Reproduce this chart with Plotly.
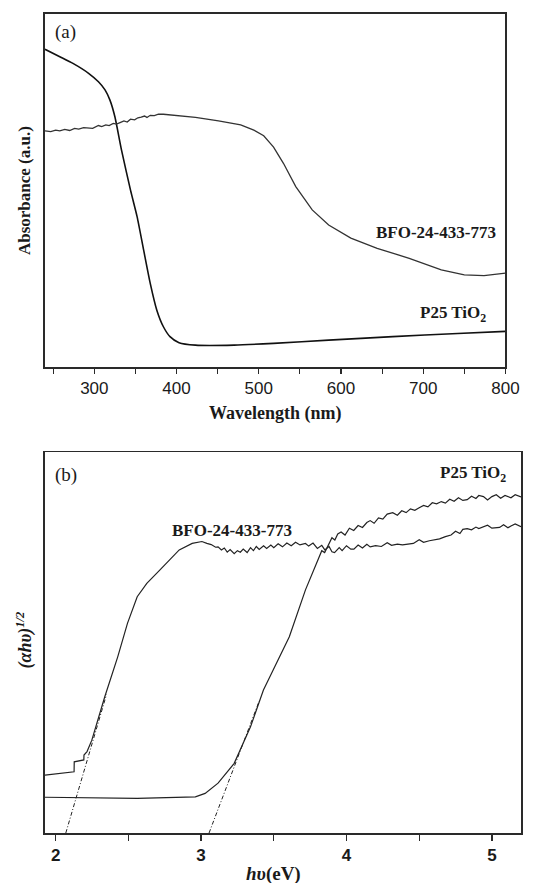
import plotly.graph_objects as go

# ---------------- Panel (a): absorbance vs wavelength ----------------
wl_p25 = [240, 258, 274, 293, 305, 313, 319, 325, 333, 344, 352, 360, 368, 376, 384,
          392, 403, 423, 470, 518, 585, 663, 742, 800]
abs_p25 = [0.900, 0.879, 0.860, 0.832, 0.808, 0.785, 0.756, 0.709, 0.615, 0.501, 0.426,
           0.331, 0.237, 0.161, 0.114, 0.086, 0.069, 0.062, 0.062, 0.067, 0.076, 0.086,
           0.095, 0.101]

wl_bfo = [240, 247, 253, 258, 264, 270, 276, 281, 287, 293, 298, 305, 309, 314, 318, 323,
          327, 332, 336, 340, 344, 349, 353, 357, 361, 364, 368, 373, 378, 384, 392, 400,
          423, 451, 478, 494, 506, 518, 530, 545, 565, 585, 612, 644, 683, 722, 750, 774,
          789, 800]
abs_bfo = [0.669, 0.667, 0.671, 0.669, 0.673, 0.670, 0.676, 0.674, 0.678, 0.677, 0.676,
           0.684, 0.681, 0.686, 0.684, 0.690, 0.688, 0.693, 0.697, 0.694, 0.702, 0.700,
           0.706, 0.708, 0.711, 0.707, 0.713, 0.712, 0.716, 0.716, 0.714, 0.714, 0.707,
           0.697, 0.686, 0.671, 0.655, 0.623, 0.577, 0.511, 0.445, 0.402, 0.365, 0.336,
           0.308, 0.275, 0.261, 0.259, 0.263, 0.266]

# ---------------- Panel (b): (alpha h nu)^1/2 vs h nu ----------------
e_bfo = [1.927, 2.127, 2.128, 2.194, 2.195, 2.216, 2.249, 2.338, 2.427, 2.494, 2.561, 2.627,
         2.716, 2.783, 2.850, 2.939, 3.006, 3.04, 3.07, 3.10, 3.117, 3.14, 3.16, 3.18, 3.20,
         3.228, 3.25, 3.27, 3.29, 3.317, 3.34, 3.36, 3.38, 3.40, 3.43, 3.451, 3.48, 3.50,
         3.53, 3.56, 3.59, 3.62, 3.65, 3.68, 3.718, 3.74, 3.77, 3.80, 3.83, 3.851, 3.88,
         3.90, 3.918, 3.95, 3.97, 4.00, 4.03, 4.051, 4.08, 4.11, 4.14, 4.163, 4.20, 4.24,
         4.28, 4.31, 4.35, 4.385, 4.42, 4.46, 4.50, 4.53, 4.57, 4.608, 4.64, 4.68, 4.719,
         4.75, 4.78, 4.80, 4.830, 4.86, 4.89, 4.91, 4.942, 4.97, 5.00, 5.053, 5.08, 5.11,
         5.131, 5.16, 5.20]
k_bfo = [0.152, 0.161, 0.187, 0.192, 0.205, 0.214, 0.244, 0.358, 0.463, 0.551, 0.621, 0.656,
         0.691, 0.717, 0.744, 0.761, 0.766, 0.761, 0.758, 0.751, 0.752, 0.744, 0.749, 0.738,
         0.745, 0.734, 0.742, 0.738, 0.746, 0.737, 0.750, 0.742, 0.753, 0.745, 0.755, 0.748,
         0.757, 0.750, 0.760, 0.752, 0.762, 0.755, 0.764, 0.757, 0.761, 0.754, 0.762, 0.748,
         0.756, 0.744, 0.753, 0.739, 0.737, 0.750, 0.742, 0.755, 0.746, 0.746, 0.757, 0.749,
         0.759, 0.752, 0.755, 0.753, 0.763, 0.756, 0.759, 0.757, 0.759, 0.761, 0.771, 0.764,
         0.768, 0.770, 0.773, 0.779, 0.783, 0.793, 0.787, 0.798, 0.800, 0.797, 0.804, 0.800,
         0.805, 0.809, 0.801, 0.803, 0.810, 0.802, 0.807, 0.812, 0.805]

e_p25 = [1.927, 2.561, 2.961, 3.028, 3.117, 3.228, 3.340, 3.429, 3.495, 3.607, 3.718, 3.807,
         3.83, 3.85, 3.874, 3.90, 3.92, 3.94, 3.963, 3.99, 4.02, 4.05, 4.08, 4.11, 4.14,
         4.163, 4.19, 4.22, 4.25, 4.28, 4.318, 4.35, 4.38, 4.41, 4.44, 4.47, 4.497, 4.53,
         4.56, 4.59, 4.62, 4.652, 4.68, 4.71, 4.74, 4.77, 4.80, 4.830, 4.86, 4.89, 4.91,
         4.942, 4.97, 5.00, 5.03, 5.06, 5.09, 5.131, 5.16, 5.20]
k_p25 = [0.094, 0.091, 0.095, 0.104, 0.131, 0.183, 0.279, 0.376, 0.428, 0.516, 0.639, 0.717,
         0.742, 0.737, 0.755, 0.776, 0.770, 0.786, 0.791, 0.783, 0.801, 0.795, 0.808, 0.803,
         0.816, 0.821, 0.814, 0.828, 0.825, 0.838, 0.842, 0.835, 0.847, 0.842, 0.852, 0.848,
         0.854, 0.861, 0.857, 0.868, 0.865, 0.871, 0.867, 0.877, 0.872, 0.881, 0.874, 0.876,
         0.885, 0.879, 0.887, 0.884, 0.875, 0.884, 0.889, 0.880, 0.887, 0.881, 0.889, 0.883]

# linear extrapolations (band-gap tangents)
tan_bfo_e = [2.07, 2.35]
tan_bfo_k = [0.0, 0.364]
tan_p25_e = [3.055, 3.40]
tan_p25_k = [0.0, 0.347]

SERIF = "Liberation Serif, Times New Roman, serif"
SANS = "Liberation Sans, Arial, sans-serif"
INK = "#1a1a1a"

fig = go.Figure()
fig.add_trace(go.Scatter(x=wl_p25, y=abs_p25, mode="lines", line=dict(color="#111111", width=1.6, shape="spline", smoothing=0.6),
                         xaxis="x", yaxis="y", showlegend=False, hoverinfo="skip"))
fig.add_trace(go.Scatter(x=wl_bfo, y=abs_bfo, mode="lines", line=dict(color="#333333", width=1.3),
                         xaxis="x", yaxis="y", showlegend=False, hoverinfo="skip"))
fig.add_trace(go.Scatter(x=e_bfo, y=k_bfo, mode="lines", line=dict(color="#222222", width=1.2),
                         xaxis="x2", yaxis="y2", showlegend=False, hoverinfo="skip"))
fig.add_trace(go.Scatter(x=e_p25, y=k_p25, mode="lines", line=dict(color="#222222", width=1.2),
                         xaxis="x2", yaxis="y2", showlegend=False, hoverinfo="skip"))
fig.add_trace(go.Scatter(x=tan_bfo_e, y=tan_bfo_k, mode="lines", line=dict(color="#222222", width=1, dash="4px,2px,1px,2px"),
                         xaxis="x2", yaxis="y2", showlegend=False, hoverinfo="skip"))
fig.add_trace(go.Scatter(x=tan_p25_e, y=tan_p25_k, mode="lines", line=dict(color="#222222", width=1, dash="4px,2px,1px,2px"),
                         xaxis="x2", yaxis="y2", showlegend=False, hoverinfo="skip"))

frame = dict(showline=True, linecolor="#2a2a2a", linewidth=1.6, mirror=True, showgrid=False, zeroline=False)

fig.update_layout(
    width=537, height=883,
    margin=dict(l=45, r=2, t=14, b=50),
    paper_bgcolor="white", plot_bgcolor="white",
    xaxis=dict(domain=[0, 0.9673], anchor="y", range=[240, 800], dtick=100, tick0=0,
               ticks="outside", ticklen=5, tickwidth=1.2, tickcolor="#2a2a2a",
               minor=dict(dtick=50, tick0=0, ticks="outside", ticklen=5, tickwidth=1.2, tickcolor="#2a2a2a"),
               tickfont=dict(family=SANS, size=17, color=INK), **frame),
    yaxis=dict(domain=[0.569, 1.0], anchor="x", range=[0, 1], showticklabels=False, ticks="", **frame),
    xaxis2=dict(domain=[0, 1.0], anchor="y2", range=[1.927, 5.2], dtick=1, tick0=0,
                ticks="outside", ticklen=6, tickwidth=1.4, tickcolor="#2a2a2a",
                minor=dict(dtick=0.5, tick0=0, ticks="outside", ticklen=6, tickwidth=1.4, tickcolor="#2a2a2a"),
                tickfont=dict(family=SANS, size=17, color=INK, weight="bold"), **frame),
    yaxis2=dict(domain=[0, 0.4646], anchor="x2", range=[0, 1], showticklabels=False, ticks="", **frame),
)

ann = []
def A(text, x, y, xref, yref, size=17, bold=False, angle=0, xanchor="center"):
    ann.append(dict(text=text, x=x, y=y, xref=xref, yref=yref, showarrow=False,
                    xanchor=xanchor, yanchor="middle", textangle=angle,
                    font=dict(family=SERIF, size=size, color=INK, weight="bold" if bold else "normal")))

A("(a)", 265.4, 0.948, "x", "y", size=19)
A("(b)", 2.073, 0.941, "x2", "y2", size=19)
A("BFO-24-433-773", 716, 0.38, "x", "y", size=17, bold=True)
A("P25 TiO<sub>2</sub>", 736, 0.150, "x", "y", size=17, bold=True)
A("P25 TiO<sub>2</sub>", 4.87, 0.943, "x2", "y2", size=17, bold=True)
A("BFO-24-433-773", 3.215, 0.796, "x2", "y2", size=17, bold=True)
A("Wavelength (nm)", 520, 0.5128, "x", "paper", size=18, bold=True)
A("<i>hυ</i>(eV)", 3.495, -0.050, "x2", "paper", size=19, bold=True)
A("Absorbance (a.u.)", -0.0429, 0.7845, "paper", "paper", size=17, bold=True, angle=-90)
A("<i>(αhυ)</i><sup><i>1/2</i></sup>", -0.0429, 0.2357, "paper", "paper", size=18, bold=True, angle=-90)
fig.update_layout(annotations=ann, hovermode=False)

# remove the default page margin so the 537x883 figure fills the window exactly
fig.write_html("out.html", config={"displayModeBar": False, "staticPlot": True},
               post_script="document.body.style.margin='0';document.documentElement.style.overflow='hidden';document.body.style.overflow='hidden';")
